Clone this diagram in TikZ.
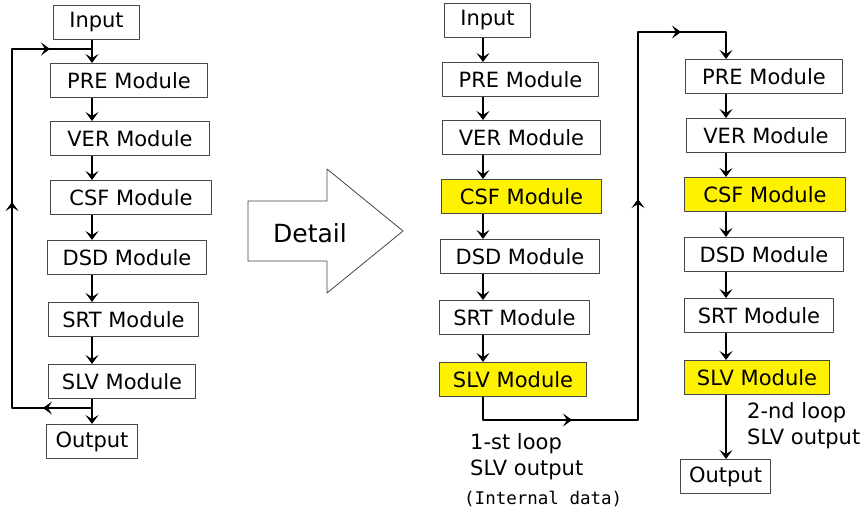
\documentclass[tikz,border=0pt]{standalone}
\usepackage{fontspec}
\setmainfont{DejaVu Sans}
\setmonofont{DejaVu Sans Mono}
\usetikzlibrary{arrows.meta,decorations.markings,positioning}
\definecolor{modyel}{RGB}{255,242,0}
\definecolor{modline}{RGB}{70,70,70}
\begin{document}
\begin{tikzpicture}[x=1pt, y=-1pt, font=\fontsize{21}{26}\selectfont, line join=round,
		>={Stealth[length=9pt,width=13pt,inset=4pt]},
		modbox/.style={draw=modline, line width=1pt, fill=white, minimum width=#1,
			minimum height=34pt, inner sep=0pt, anchor=north west},
		hot/.style={fill=modyel},
		wire/.style={line width=1.8pt},
		flow/.style={wire, ->},
		loopwire/.style={wire, postaction={decorate}}]
	\useasboundingbox (0,0) rectangle (867,517);
	\def\ax{92} \def\bx{483} \def\cx{726} % arrow columns
	% left: overview
	\node[modbox=86] (inA) at (53,5) {Input};
	\node[modbox=157] (preA) at (50,63) {PRE Module};
	\node[modbox=159] (verA) at (50,121) {VER Module};
	\node[modbox=161] (csfA) at (50,180) {CSF Module};
	\node[modbox=159] (dsdA) at (47,240) {DSD Module};
	\node[modbox=150] (srtA) at (48,302) {SRT Module};
	\node[modbox=147] (slvA) at (48,364) {SLV Module};
	\node[modbox=91] (outA) at (46,424) {Output};
	\coordinate (ax) at (\ax,0);
	\foreach \s/\t in {inA/preA, preA/verA, verA/csfA, csfA/dsdA, dsdA/srtA, srtA/slvA, slvA/outA}
		\draw[flow] (\s.south -| ax) -- (\t.north -| ax);
	\coordinate (lpB) at (12,408);
	\coordinate (lpT) at (12,49);
	\draw[loopwire, decoration={markings,
			mark=at position 49pt with {\arrow{>}},
			mark=at position 286pt with {\arrow{>}},
			mark=at position 477pt with {\arrow{>}}}]
		(lpB -| ax) -- (lpB) -- (lpT) -- (lpT -| ax);
	% detail arrow
	\draw[modline, line width=0.8pt, fill=white] (248,201) -- (327,201) -- (327,169) -- (403,231)
		-- (327,293) -- (327,261) -- (248,261) -- cycle;
	\node[font=\fontsize{25}{30}\selectfont] (det) at (310,233) {Detail};
	% middle: 1-st loop
	\node[modbox=86] (inB) at (444,3) {Input};
	\node[modbox=156] (preB) at (442,62) {PRE Module};
	\node[modbox=158] (verB) at (442,120) {VER Module};
	\node[modbox=160, hot] (csfB) at (441,179) {CSF Module};
	\node[modbox=159] (dsdB) at (440,239) {DSD Module};
	\node[modbox=150] (srtB) at (439,300) {SRT Module};
	\node[modbox=147, hot] (slvB) at (439,362) {SLV Module};
	\coordinate (bx) at (\bx,0);
	\foreach \s/\t in {inB/preB, preB/verB, verB/csfB, csfB/dsdB, dsdB/srtB, srtB/slvB}
		\draw[flow] (\s.south -| bx) -- (\t.north -| bx);
	% right: 2-nd loop
	\node[modbox=157] (preC) at (685,59) {PRE Module};
	\node[modbox=159] (verC) at (686,118) {VER Module};
	\node[modbox=161, hot] (csfC) at (684,177) {CSF Module};
	\node[modbox=159] (dsdC) at (684,237) {DSD Module};
	\node[modbox=149] (srtC) at (684,298) {SRT Module};
	\node[modbox=145, hot] (slvC) at (684,360) {SLV Module};
	\node[modbox=90] (outC) at (680,459) {Output};
	\coordinate (cx) at (\cx,0);
	\foreach \s/\t in {preC/verC, verC/csfC, csfC/dsdC, dsdC/srtC, srtC/slvC, slvC/outC}
		\draw[flow] (\s.south -| cx) -- (\t.north -| cx);
	% hand over from 1-st to 2-nd loop
	\coordinate (hoB) at (638,420);
	\coordinate (hoT) at (638,32);
	\draw[loopwire, ->, decoration={markings,
			mark=at position 112pt with {\arrow{>}},
			mark=at position 399pt with {\arrow{>}},
			mark=at position 609pt with {\arrow{>}}}]
		(slvB.south -| bx) -- (hoB -| bx) -- (hoB) -- (hoT) -- (hoT -| cx) -- (preC.north -| cx);
	% labels
	\node[anchor=north west, align=left, inner sep=0pt] (lbB) at (470,433) {1-st loop\\SLV output};
	\node[anchor=north west, inner sep=0pt, font=\ttfamily\fontsize{17.5}{20}\selectfont] (intB)
		at (464,491) {(Internal data)};
	\node[anchor=north west, align=left, inner sep=0pt] (lbC) at (747,402) {2-nd loop\\SLV output};
\end{tikzpicture}
\end{document}
